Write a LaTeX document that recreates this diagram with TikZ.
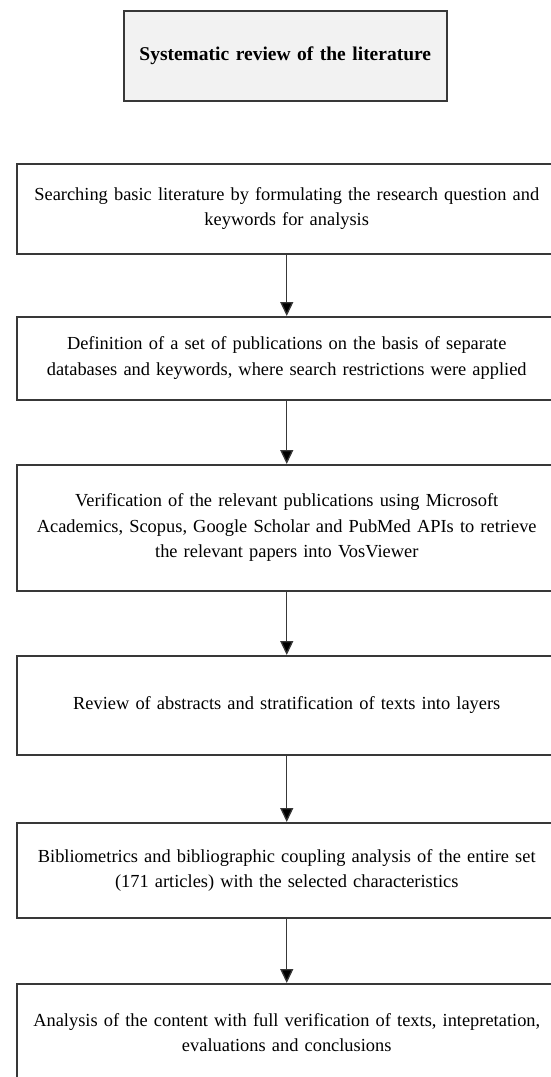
\documentclass[tikz,border=0pt]{standalone}
\usepackage{fontspec}
\setmainfont{Liberation Serif}
\usetikzlibrary{arrows.meta}

\definecolor{boxline}{gray}{0.22}
\definecolor{titlefill}{gray}{0.95}

\tikzset{
  stepbox/.style={draw=boxline, line width=1.5pt, anchor=north west,
    minimum width=540pt, text width=530pt, align=center, inner sep=0pt,
    font=\fontsize{18.4}{25.5}\selectfont},
  titlebox/.style={stepbox, fill=titlefill, minimum width=323pt, text width=315pt,
    font=\fontsize{19.5}{24}\selectfont\bfseries},
  flow/.style={draw=boxline, line width=1.3pt, -{Triangle[length=14pt,width=13pt,fill=black]}}
}

\begin{document}
\begin{tikzpicture}[x=1pt, y=-1pt]
                        \useasboundingbox (0,0) rectangle (551,1077);
                        \clip (0,0) rectangle (551,1077);

                        \node[titlebox, minimum height=90pt] (title) at (123,10)
                            {Systematic review of the literature};

                        \node[stepbox, minimum height=90pt] (b1) at (16,163)
                            {Searching basic literature by formulating the research question and\\
                             keywords for analysis};
                        \node[stepbox, minimum height=83pt] (b2) at (16,316)
                            {Definition of a set of publications on the basis of separate\\
                             databases and keywords, where search restrictions were applied};
                        \node[stepbox, minimum height=126pt] (b3) at (16,464)
                            {Verification of the relevant publications using Microsoft\\
                             Academics, Scopus, Google Scholar and PubMed APIs to retrieve\\
                             the relevant papers into VosViewer};
                        \node[stepbox, minimum height=99pt] (b4) at (16,655)
                            {Review of abstracts and stratification of texts into layers};
                        \node[stepbox, minimum height=95pt] (b5) at (16,822)
                            {Bibliometrics and bibliographic coupling analysis of the entire set\\
                             (171 articles) with the selected characteristics};
                        \node[stepbox, minimum height=98pt] (b6) at (16,983)
                            {Analysis of the content with full verification of texts, intepretation,\\
                             evaluations and conclusions};

                        \foreach \a/\b in {b1/b2,b2/b3,b3/b4,b4/b5,b5/b6} {
                            \draw[flow] (\a.south) -- (\b.north);
                        }
                    \end{tikzpicture}
\end{document}
